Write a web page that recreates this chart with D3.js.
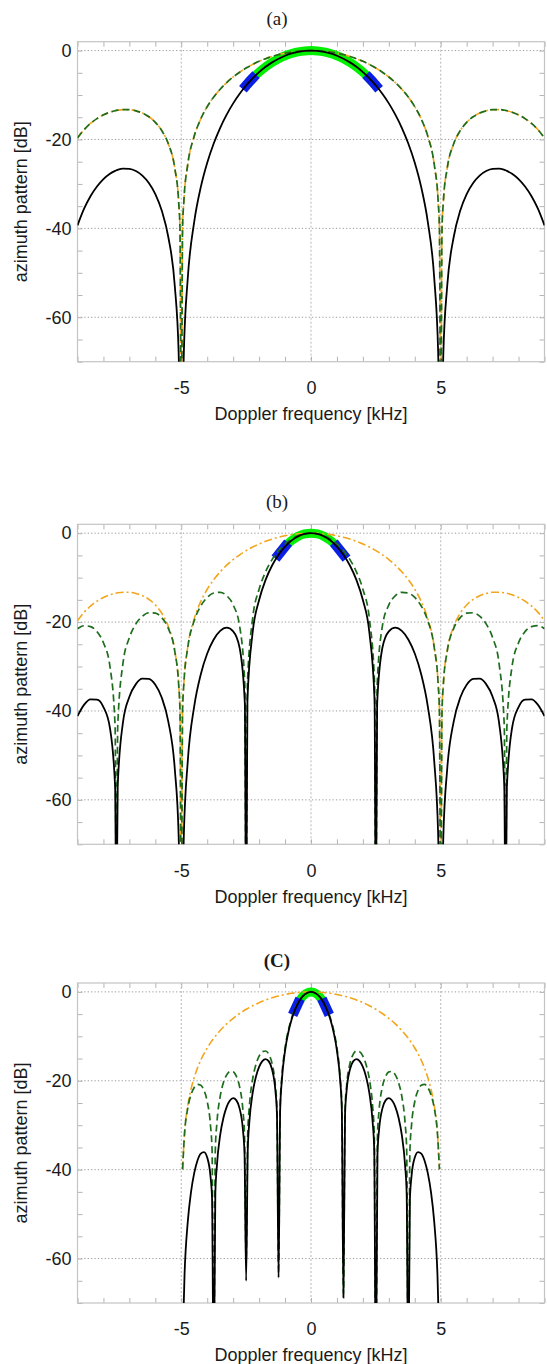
<!DOCTYPE html>
<html><head><meta charset="utf-8">
<script src="https://cdn.jsdelivr.net/npm/d3@7"></script>
<style>body{margin:0;background:#fff}</style>
</head><body>
<svg id="chart" width="547" height="1364"></svg>
<script>
// ---------- data ----------
const panelTitles = ["(a)", "(b)", "(C)"];
const xTickLabels = [-5, 0, 5];
const xMinorTicks = [-9,-8,-7,-6,-5,-4,-3,-2,-1,0,1,2,3,4,5,6,7,8,9];
const yTickLabels = [0, -20, -40, -60];
const yMinorTicks = [0,-5,-10,-15,-20,-25,-30,-35,-40,-45,-50,-55,-60,-65,-70];
const bandEdges = [2.5, 1.25, 0.625];      // half-width of the highlighted (green) main-lobe part
const blueStarts = [2.25, 1.0, 0.5];       // start of the blue edge markers

// frequency grid [kHz] for panels (a) and (b)
const freqAB = [-9,-8.75,-8.5,-8.25,-8,-7.75,-7.55,-7.5,-7.45,-7.25,-7,-6.75,-6.5,-6.25,-6,-5.75,-5.5,-5.25,-5.1,-5.05,-5,-4.95,-4.9,-4.75,-4.5,-4.25,-4,-3.75,-3.5,-3.25,-3,-2.75,-2.55,-2.5,-2.45,-2.25,-2,-1.75,-1.5,-1.25,-1,-0.75,-0.5,-0.25,
  0,0.25,0.5,0.75,1,1.25,1.5,1.75,2,2.25,2.45,2.5,2.55,2.75,3,3.25,3.5,3.75,4,4.25,4.5,4.75,4.9,4.95,5,5.05,5.1,5.25,5.5,5.75,6,6.25,6.5,6.75,7,7.25,7.45,7.5,7.55,7.75,8,8.25,8.5,8.75,9];

// one-way pattern [dB] (orange in a,b; green in a)
const oneWay = [-19.66,-17.82,-16.39,-15.30,-14.46,-13.86,-13.53,-13.46,-13.41,-13.28,-13.30,-13.55,-14.06,-14.89,-16.14,-18.02,-20.97,-26.48,-34.16,-40.09,-90,-39.91,-33.81,-25.61,-19.23,-15.39,-12.62,-10.45,-8.69,-7.20,-5.94,-4.86,-4.10,-3.92,-3.75,-3.11,-2.42,-1.83,-1.33,-0.91,-0.58,-0.32,-0.14,-0.04,
  0,-0.04,-0.14,-0.32,-0.58,-0.91,-1.33,-1.83,-2.42,-3.11,-3.75,-3.92,-4.10,-4.86,-5.94,-7.20,-8.69,-10.45,-12.62,-15.39,-19.23,-25.61,-33.81,-39.91,-90,-40.09,-34.16,-26.48,-20.97,-18.02,-16.14,-14.89,-14.06,-13.55,-13.30,-13.28,-13.41,-13.46,-13.53,-13.86,-14.46,-15.30,-16.39,-17.82,-19.66];

// two-way pattern [dB] (black in a)
const twoWayA = [-39.32,-35.63,-32.78,-30.59,-28.92,-27.71,-27.06,-26.92,-26.82,-26.56,-26.60,-27.10,-28.12,-29.78,-32.28,-36.03,-41.94,-52.96,-68.32,-80.18,-90,-79.82,-67.62,-51.22,-38.46,-30.78,-25.24,-20.91,-17.37,-14.41,-11.88,-9.72,-8.20,-7.84,-7.50,-6.23,-4.84,-3.65,-2.65,-1.82,-1.16,-0.65,-0.29,-0.07,
  0,-0.07,-0.29,-0.65,-1.16,-1.82,-2.65,-3.65,-4.84,-6.23,-7.50,-7.84,-8.20,-9.72,-11.88,-14.41,-17.37,-20.91,-25.24,-30.78,-38.46,-51.22,-67.62,-79.82,-90,-80.18,-68.32,-52.96,-41.94,-36.03,-32.28,-29.78,-28.12,-27.10,-26.60,-26.56,-26.82,-26.92,-27.06,-27.71,-28.92,-30.59,-32.78,-35.63,-39.32];

// green dashed in (b)
const greenB = [-21.50,-20.82,-21.01,-22.15,-24.66,-29.97,-43.58,-90,-43.47,-29.39,-23.50,-20.41,-18.68,-17.90,-17.98,-19.02,-21.41,-26.59,-34.17,-40.09,-90,-39.92,-33.83,-25.72,-19.66,-16.39,-14.46,-13.46,-13.30,-14.06,-16.14,-20.97,-34.16,-90,-33.81,-19.23,-12.62,-8.69,-5.94,-3.92,-2.42,-1.33,-0.58,-0.14,
  0,-0.14,-0.58,-1.33,-2.42,-3.92,-5.94,-8.69,-12.62,-19.23,-33.81,-90,-34.16,-20.97,-16.14,-14.06,-13.30,-13.46,-14.46,-16.39,-19.66,-25.72,-33.83,-39.92,-90,-40.09,-34.17,-26.59,-21.41,-19.02,-17.98,-17.90,-18.68,-20.41,-23.50,-29.39,-43.47,-90,-43.58,-29.97,-24.66,-22.15,-21.01,-20.82,-21.50];

// black solid in (b)
const blackB = [-41.16,-38.64,-37.40,-37.45,-39.12,-43.83,-57.11,-90,-56.88,-42.67,-36.80,-33.96,-32.74,-32.79,-34.12,-37.04,-42.38,-53.07,-68.33,-80.18,-90,-79.83,-67.64,-51.33,-38.89,-31.78,-27.08,-23.91,-21.99,-21.26,-22.08,-25.83,-38.26,-90,-37.56,-22.34,-15.04,-10.51,-7.27,-4.83,-3.00,-1.65,-0.72,-0.18,
  0,-0.18,-0.72,-1.65,-3.00,-4.83,-7.27,-10.51,-15.04,-22.34,-37.56,-90,-38.26,-25.83,-22.08,-21.26,-21.99,-23.91,-27.08,-31.78,-38.89,-51.33,-67.64,-79.83,-90,-80.18,-68.33,-53.07,-42.38,-37.04,-34.12,-32.79,-32.74,-33.96,-36.80,-42.67,-56.88,-90,-57.11,-43.83,-39.12,-37.45,-37.40,-38.64,-41.16];

// frequency grid [kHz] for panel (c)
const freqC = [-4.95,-4.875,-4.75,-4.625,-4.5,-4.375,-4.25,-4.125,-4,-3.875,-3.8125,-3.75,-3.6875,-3.625,-3.5,-3.375,-3.25,-3.125,-3,-2.875,-2.75,-2.625,-2.5625,-2.5,-2.4375,-2.375,-2.25,-2.125,-2,-1.875,-1.75,-1.625,-1.5,-1.375,-1.3125,-1.25,-1.1875,-1.125,-1,-0.875,-0.75,-0.625,-0.5,-0.375,-0.25,-0.125,
  0,0.125,0.25,0.375,0.5,0.625,0.75,0.875,1,1.125,1.1875,1.25,1.3125,1.375,1.5,1.625,1.75,1.875,2,2.125,2.25,2.375,2.4375,2.5,2.5625,2.625,2.75,2.875,3,3.125,3.25,3.375,3.5,3.625,3.6875,3.75,3.8125,3.875,4,4.125,4.25,4.375,4.5,4.625,4.75,4.875,4.95];

const orangeC = [-39.91,-31.83,-25.61,-21.90,-19.23,-17.13,-15.39,-13.91,-12.62,-11.48,-10.95,-10.45,-9.98,-9.53,-8.69,-7.91,-7.20,-6.55,-5.94,-5.38,-4.86,-4.37,-4.14,-3.92,-3.71,-3.50,-3.11,-2.75,-2.42,-2.11,-1.83,-1.57,-1.33,-1.11,-1.01,-0.91,-0.82,-0.74,-0.58,-0.44,-0.32,-0.22,-0.14,-0.08,-0.04,-0.01,
  0,-0.01,-0.04,-0.08,-0.14,-0.22,-0.32,-0.44,-0.58,-0.74,-0.82,-0.91,-1.01,-1.11,-1.33,-1.57,-1.83,-2.11,-2.42,-2.75,-3.11,-3.50,-3.71,-3.92,-4.14,-4.37,-4.86,-5.38,-5.94,-6.55,-7.20,-7.91,-8.69,-9.53,-9.98,-10.45,-10.95,-11.48,-12.62,-13.91,-15.39,-17.13,-19.23,-21.90,-25.61,-31.83,-39.91];

const greenC = [-39.94,-31.96,-26.15,-23.15,-21.50,-20.82,-21.01,-22.15,-24.66,-29.97,-35.74,-90,-35.45,-29.39,-23.50,-20.41,-18.68,-17.90,-17.98,-19.02,-21.41,-26.59,-32.29,-61,-31.86,-25.72,-19.66,-16.39,-14.46,-13.46,-13.30,-14.06,-16.14,-20.97,-26.48,-63.4,-25.61,-19.23,-12.62,-8.69,-5.94,-3.92,-2.42,-1.33,-0.58,-0.14,
  0,-0.14,-0.58,-1.33,-2.42,-3.92,-5.94,-8.69,-12.62,-19.23,-25.61,-67.9,-26.48,-20.97,-16.14,-14.06,-13.30,-13.46,-14.46,-16.39,-19.66,-25.72,-31.86,-90,-32.29,-26.59,-21.41,-19.02,-17.98,-17.90,-18.68,-20.41,-23.50,-29.39,-35.45,-90,-35.74,-29.97,-24.66,-22.15,-21.01,-20.82,-21.50,-23.15,-26.15,-31.96,-39.94];

const blackC = [-79.85,-63.79,-51.76,-45.05,-40.73,-37.95,-36.40,-36.06,-37.28,-41.45,-46.69,-90,-45.43,-38.92,-32.19,-28.32,-25.88,-24.45,-23.92,-24.40,-26.27,-30.96,-36.43,-65,-35.57,-29.22,-22.78,-19.14,-16.88,-15.57,-15.13,-15.63,-17.47,-22.08,-27.49,-64.3,-26.43,-19.96,-13.20,-9.13,-6.27,-4.15,-2.56,-1.41,-0.62,-0.15,
  0,-0.15,-0.62,-1.41,-2.56,-4.15,-6.27,-9.13,-13.20,-19.96,-26.43,-68.8,-27.49,-22.08,-17.47,-15.63,-15.13,-15.57,-16.88,-19.14,-22.78,-29.22,-35.57,-90,-36.43,-30.96,-26.27,-24.40,-23.92,-24.45,-25.88,-28.32,-32.19,-38.92,-45.43,-90,-46.69,-41.45,-37.28,-36.06,-36.40,-37.95,-40.73,-45.05,-51.76,-63.79,-79.85];

// ---------- layout / style ----------
const svg = d3.select("#chart");
const plotLeft = 77.5, plotRight = 544.5, plotH = 320;
const panelTops = [41.7, 524.3, 983];
const COL = {orange: "#f3a51c", green: "#1d6d1d", black: "#000000", lime: "#00f000", blue: "#0a1ee6", grid: "#8c8c8c", frame: "#c4c4c4", tick: "#b4b4b4", text: "#1a1a1a"};
const sansFont = "'Liberation Sans', Arial, Helvetica, sans-serif";
const serifFont = "'Liberation Serif', 'Times New Roman', serif";

const panels = [
  {freq: freqAB, orange: oneWay, green: oneWay, black: twoWayA},
  {freq: freqAB, orange: oneWay, green: greenB, black: blackB},
  {freq: freqC, orange: orangeC, green: greenC, black: blackC}
];

const x = d3.scaleLinear().domain([-9, 9]).range([plotLeft, plotRight]);

panels.forEach((p, i) => {
  const top = panelTops[i], bottom = top + plotH;
  const y = d3.scaleLinear().domain([-70, 2]).range([bottom, top]);
  const g = svg.append("g");
  const clipId = "clip" + i;
  svg.append("clipPath").attr("id", clipId).append("rect")
    .attr("x", plotLeft).attr("y", top).attr("width", plotRight - plotLeft).attr("height", plotH);

  // title
  g.append("text").attr("x", 277).attr("y", top - 23).attr("dy", "0.35em")
    .attr("text-anchor", "middle").attr("font-family", serifFont).attr("font-size", 19)
    .attr("font-weight", i === 2 ? "bold" : "normal").attr("fill", COL.text)
    .text(panelTitles[i]);

  // grid
  g.append("g").selectAll("line").data(xTickLabels).join("line")
    .attr("x1", d => x(d)).attr("x2", d => x(d)).attr("y1", top).attr("y2", bottom)
    .attr("stroke", "#9a9a9a").attr("stroke-width", 0.7).attr("stroke-dasharray", "2,2");
  g.append("g").selectAll("line").data(yTickLabels).join("line")
    .attr("x1", plotLeft).attr("x2", plotRight).attr("y1", d => y(d)).attr("y2", d => y(d))
    .attr("stroke", COL.grid).attr("stroke-width", 0.9).attr("stroke-dasharray", "1.2,2.2");

  // axes (inward ticks)
  const styleAxis = sel => {
    sel.select(".domain").remove();
    sel.selectAll(".tick line").attr("stroke", COL.tick).attr("stroke-width", 1);
    sel.selectAll(".tick text").attr("fill", COL.text).attr("font-family", sansFont).attr("font-size", 18);
  };
  g.append("g").attr("transform", `translate(0,${bottom})`)
    .call(d3.axisBottom(x).tickValues(xMinorTicks).tickSizeInner(-5).tickSizeOuter(0).tickPadding(19.5)
      .tickFormat(d => xTickLabels.includes(d) ? String(d) : ""))
    .call(styleAxis);
  g.append("g").attr("transform", `translate(0,${top})`)
    .call(d3.axisTop(x).tickValues(xMinorTicks).tickSizeInner(-5).tickSizeOuter(0).tickFormat(""))
    .call(styleAxis);
  g.append("g").attr("transform", `translate(${plotLeft},0)`)
    .call(d3.axisLeft(y).tickValues(yMinorTicks).tickSizeInner(-5).tickSizeOuter(0).tickPadding(6)
      .tickFormat(d => yTickLabels.includes(d) ? String(d) : ""))
    .call(styleAxis);
  g.append("g").attr("transform", `translate(${plotRight},0)`)
    .call(d3.axisRight(y).tickValues(yMinorTicks).tickSizeInner(-5).tickSizeOuter(0).tickFormat(""))
    .call(styleAxis);

  // frame
  g.append("rect").attr("x", plotLeft).attr("y", top).attr("width", plotRight - plotLeft).attr("height", plotH)
    .attr("fill", "none").attr("stroke", COL.frame).attr("stroke-width", 1.2);

  // axis titles
  g.append("text").attr("x", (plotLeft + plotRight) / 2).attr("y", bottom + 52).attr("dy", "0.35em")
    .attr("text-anchor", "middle").attr("font-family", sansFont).attr("font-size", 18).attr("fill", COL.text)
    .text("Doppler frequency [kHz]");
  g.append("text").attr("transform", `translate(21,${(top + bottom) / 2}) rotate(-90)`).attr("dy", "0.35em")
    .attr("text-anchor", "middle").attr("font-family", sansFont).attr("font-size", 18).attr("fill", COL.text)
    .text("azimuth pattern [dB]");

  // curves
  const pts = arr => p.freq.map((f, k) => [f, arr[k]]);
  const line = d3.line().x(d => x(d[0])).y(d => y(d[1])).curve(d3.curveMonotoneX);
  const plot = g.append("g").attr("clip-path", `url(#${clipId})`);
  const blackPts = pts(p.black);
  const edge = bandEdges[i], bs = blueStarts[i];

  plot.append("path").datum(blackPts.filter(d => Math.abs(d[0]) <= edge + 1e-9))
    .attr("d", line).attr("fill", "none").attr("stroke", COL.lime).attr("stroke-width", 9).attr("stroke-linecap", "butt");
  [[-edge, -bs], [bs, edge]].forEach(([a, b]) => {
    plot.append("path").datum(blackPts.filter(d => d[0] >= a - 1e-9 && d[0] <= b + 1e-9))
      .attr("d", line).attr("fill", "none").attr("stroke", COL.blue).attr("stroke-width", 10).attr("stroke-linecap", "square");
  });

  plot.append("path").datum(pts(p.orange)).attr("d", line).attr("fill", "none")
    .attr("stroke", COL.orange).attr("stroke-width", 1.6).attr("stroke-dasharray", "8,3,2,3");
  plot.append("path").datum(pts(p.green)).attr("d", line).attr("fill", "none")
    .attr("stroke", COL.green).attr("stroke-width", 1.7).attr("stroke-dasharray", "7,4");
  plot.append("path").datum(blackPts).attr("d", line).attr("fill", "none")
    .attr("stroke", COL.black).attr("stroke-width", 1.8);
});
</script>
</body></html>
